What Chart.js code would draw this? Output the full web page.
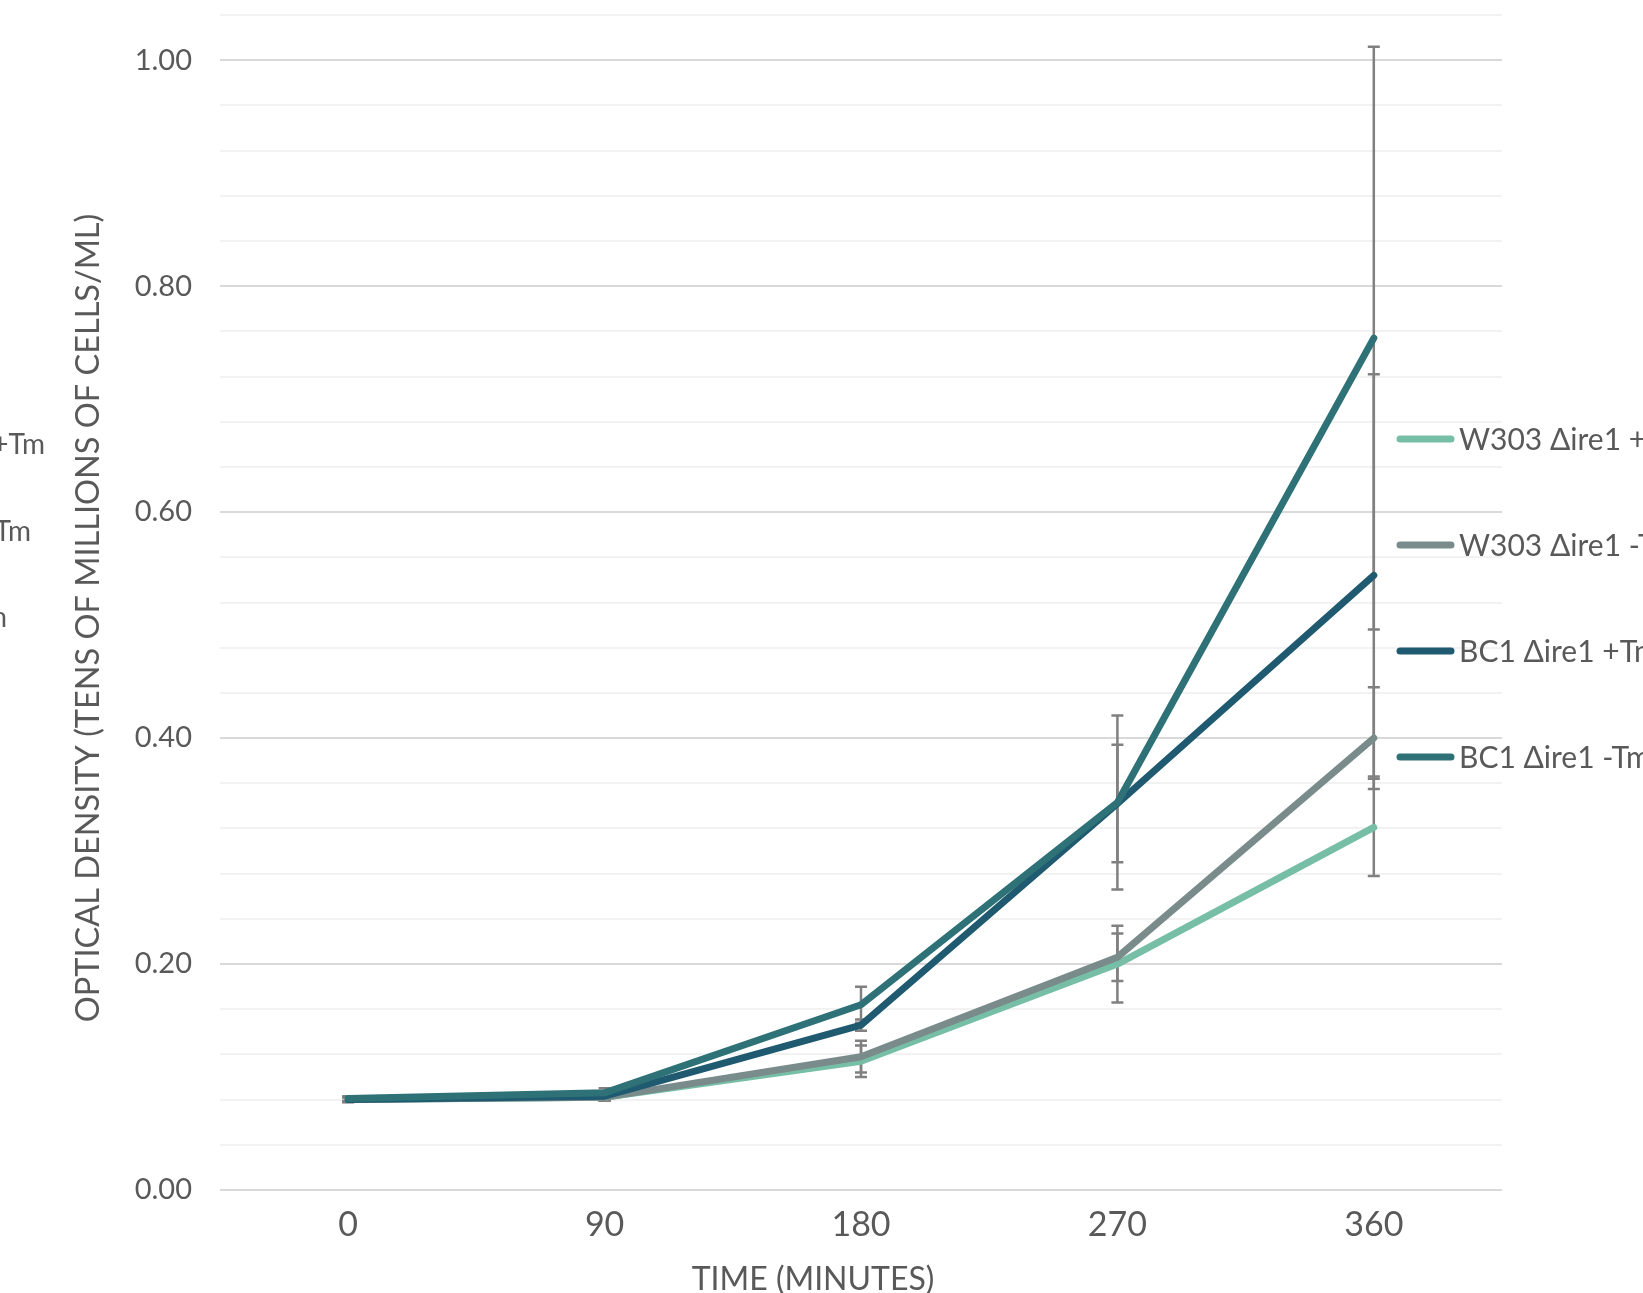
<!DOCTYPE html>
<html>
<head>
<meta charset="utf-8">
<title>Optical density</title>
<script src="https://cdn.jsdelivr.net/npm/chart.js@4.4.0/dist/chart.umd.min.js"></script>
<style>
    html, body { margin: 0; padding: 0; background: #fff; overflow: hidden; }
    #wrap { width: 1643px; height: 1293px; }
</style>
</head>
<body>
<div id="wrap"><canvas id="chart" width="1643" height="1293"></canvas></div>
<script>
// Data
const timeLabels = ['0', '90', '180', '270', '360'];
const seriesNames = ['W303 Δire1 +Tm', 'W303 Δire1 -Tm', 'BC1 Δire1 +Tm', 'BC1 Δire1 -Tm'];
const xTitle = 'TIME (MINUTES)';
const yTitle = 'OPTICAL DENSITY (TENS OF MILLIONS OF CELLS/ML)';

const w303Plus  = [0.080, 0.082, 0.114, 0.200, 0.321];
const w303Minus = [0.080, 0.082, 0.118, 0.206, 0.400];
const bc1Plus   = [0.080, 0.083, 0.146, 0.342, 0.544];
const bc1Minus  = [0.081, 0.086, 0.164, 0.343, 0.754];

const errW303Plus  = [0.002, 0.003, 0.014, 0.034, 0.043];
const errW303Minus = [0.002, 0.003, 0.014, 0.021, 0.045];
const errBc1Plus   = [0.002, 0.004, 0.005, 0.052, 0.178];
const errBc1Minus  = [0.002, 0.004, 0.016, 0.077, 0.258];

const textColor = '#595959';
const fontName = 'Lato';

// Error bars sit under the lines
const errorBars = {
    id: 'errorBars',
    beforeDatasetsDraw(chart) {
        const { ctx, scales: { x, y } } = chart;
        ctx.save();
        ctx.strokeStyle = '#808080';
        ctx.lineWidth = 2.5;
        chart.data.datasets.forEach(ds => {
            ds.data.forEach((v, i) => {
                const px = x.getPixelForValue(i);
                const top = y.getPixelForValue(v + ds.errors[i]);
                const bot = y.getPixelForValue(v - ds.errors[i]);
                ctx.beginPath();
                ctx.moveTo(px, top); ctx.lineTo(px, bot);
                ctx.moveTo(px - 6, top); ctx.lineTo(px + 6, top);
                ctx.moveTo(px - 6, bot); ctx.lineTo(px + 6, bot);
                ctx.stroke();
            });
        });
        ctx.restore();
    }
};

// Axis titles (off-centre in the original) and the legend that runs off the right edge
const overlay = {
    id: 'overlay',
    afterDraw(chart) {
        const ctx = chart.ctx;
        ctx.save();
        ctx.fillStyle = textColor;
        ctx.textBaseline = 'middle';

        // titles
        ctx.textAlign = 'center';
        ctx.font = '32px ' + fontName;
        ctx.fillText(xTitle, 813, 1280);
        ctx.save();
        ctx.translate(89, 618);
        ctx.rotate(-Math.PI / 2);
        ctx.font = '32.5px ' + fontName;
        ctx.fillText(yTitle, 0, 0);
        ctx.restore();

        // legend
        ctx.textAlign = 'left';
        ctx.font = '30px ' + fontName;
        chart.data.datasets.forEach((ds, i) => {
            const y = 439 + i * 106;
            ctx.strokeStyle = ds.borderColor;
            ctx.lineWidth = 7;
            ctx.lineCap = 'round';
            ctx.beginPath();
            ctx.moveTo(1400, y);
            ctx.lineTo(1451, y);
            ctx.stroke();
            ctx.fillText(ds.label, 1459, y + 1);
        });

        // clipped labels of the neighbouring legend on the far left
        ctx.textAlign = 'right';
        ctx.font = '28px ' + fontName;
        ctx.fillText(seriesNames[0], 45, 445);
        ctx.fillText(seriesNames[1], 31, 532);
        ctx.fillText(seriesNames[2], 7, 618);
        ctx.restore();
    }
};

function lineSet(label, data, errors, color, order) {
    return {
        label: label,
        data: data,
        errors: errors,
        borderColor: color,
        backgroundColor: color,
        borderWidth: 7,
        borderCapStyle: 'round',
        borderJoinStyle: 'round',
        pointRadius: 0,
        tension: 0,
        order: order
    };
}

new Chart(document.getElementById('chart'), {
    type: 'line',
    data: {
        labels: timeLabels,
        datasets: [
            lineSet(seriesNames[0], w303Plus, errW303Plus, '#76bfa6', 4),
            lineSet(seriesNames[1], w303Minus, errW303Minus, '#7a8b8b', 3),
            lineSet(seriesNames[2], bc1Plus, errBc1Plus, '#1f5a70', 2),
            lineSet(seriesNames[3], bc1Minus, errBc1Minus, '#2e7277', 1)
        ]
    },
    options: {
        responsive: false,
        animation: false,
        devicePixelRatio: 1,
        layout: { padding: { top: 15, right: 141, bottom: 0, left: 0 } },
        plugins: {
            legend: { display: false },
            tooltip: { enabled: false }
        },
        scales: {
            x: {
                offset: true,
                grid: { display: false },
                border: { display: false },
                ticks: { color: textColor, font: { family: fontName, size: 34 }, padding: 7 },
                afterFit(scale) {
                    scale.height = 103;
                    scale.paddingLeft = 0;
                    scale.paddingRight = 0;
                }
            },
            y: {
                min: 0,
                max: 1.04,
                grid: {
                    drawTicks: false,
                    lineWidth: 2,
                    color: ctx => (Math.round(ctx.tick.value * 100) % 20 === 0) ? '#d9d9d9' : '#f2f2f2'
                },
                border: { display: false },
                ticks: {
                    stepSize: 0.04,
                    autoSkip: false,
                    padding: 28,
                    color: textColor,
                    font: { family: fontName, size: 29 },
                    callback: v => (Math.round(v * 100) % 20 === 0) ? v.toFixed(2) : ''
                },
                afterFit(scale) {
                    scale.width = 220;
                    scale.paddingTop = 0;
                    scale.paddingBottom = 0;
                }
            }
        }
    },
    plugins: [errorBars, overlay]
});
</script>
</body>
</html>
